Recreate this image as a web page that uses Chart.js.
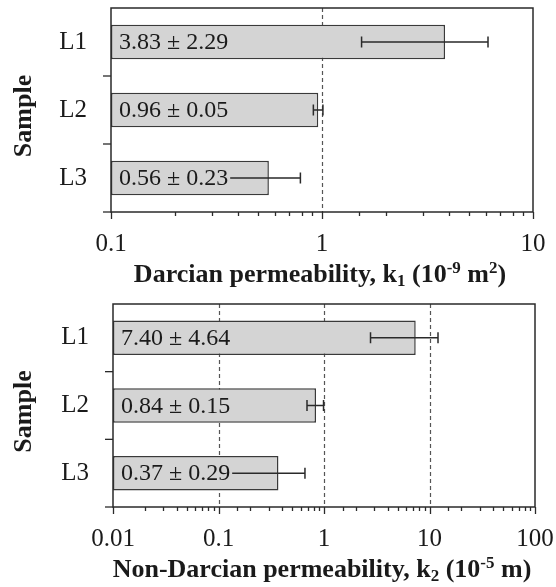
<!DOCTYPE html>
<html>
<head>
<meta charset="utf-8">
<script src="https://cdn.jsdelivr.net/npm/chart.js@4/dist/chart.umd.min.js"></script>
<style>
  html, body { margin: 0; padding: 0; background: #fff; }
  #wrap { position: relative; width: 556px; height: 587px; }
  canvas { position: absolute; left: 0; }
</style>
</head>
<body>
<div id="wrap">
  <canvas id="c1" width="556" height="293" style="top:0"></canvas>
  <canvas id="c2" width="556" height="294" style="top:293px"></canvas>
</div>
<script>
// ---- data ----
const categories = ['L1', 'L2', 'L3'];
const k1Mean = [3.83, 0.96, 0.56];
const k1Err = [2.29, 0.05, 0.23];
const k2Mean = [7.40, 0.84, 0.37];
const k2Err = [4.64, 0.15, 0.29];
const k1TickValues = [0.1, 1, 10];
const k1TickLabels = ['0.1', '1', '10'];
const k2TickValues = [0.01, 0.1, 1, 10, 100];
const k2TickLabels = ['0.01', '0.1', '1', '10', '100'];
const k1RefLines = [1];
const k2RefLines = [0.1, 1, 10];
const yTitle = 'Sample';
const k1Title = [['Darcian permeability, k', ''], ['1', 'sub'], [' (10', ''], ['-9', 'sup'], [' m', ''], ['2', 'sup'], [')', '']];
const k2Title = [['Non-Darcian permeability, k', ''], ['2', 'sub'], [' (10', ''], ['-5', 'sup'], [' m)', '']];

const SERIF = "'Liberation Serif', 'Times New Roman', serif";
const BAR_FILL = '#d4d4d4';
const BAR_EDGE = '#3a3a3a';
const INK = '#1a1a1a';

function isMajor(v) {
  const l = Math.log10(v);
  return Math.abs(l - Math.round(l)) < 1e-9;
}

function makeChart(id, opts) {
  const { mean, err, tickValues, tickLabels, refLines, title, min, max,
          padTop, padRight, yWidth, xHeight } = opts;
  const overlay = {
    id: 'overlay' + id,
    beforeDatasetsDraw(chart) {
      const ctx = chart.ctx, a = chart.chartArea, xs = chart.scales.x;
      ctx.save();
      ctx.strokeStyle = '#555';
      ctx.lineWidth = 1.2;
      ctx.setLineDash([4, 3]);
      refLines.forEach(v => {
        const x = Math.round(xs.getPixelForValue(v)) + 0.5;
        ctx.beginPath(); ctx.moveTo(x, a.top); ctx.lineTo(x, a.bottom); ctx.stroke();
      });
      ctx.restore();
    },
    afterDatasetsDraw(chart) {
      const ctx = chart.ctx, a = chart.chartArea, xs = chart.scales.x, ys = chart.scales.y;
      ctx.save();
      // error bars
      ctx.strokeStyle = '#2a2a2a';
      ctx.lineWidth = 1.5;
      mean.forEach((m, i) => {
        const y = ys.getPixelForValue(i);
        const x1 = xs.getPixelForValue(m - err[i]);
        const x2 = xs.getPixelForValue(m + err[i]);
        ctx.beginPath();
        ctx.moveTo(x1, y); ctx.lineTo(x2, y);
        ctx.moveTo(x1, y - 5.5); ctx.lineTo(x1, y + 5.5);
        ctx.moveTo(x2, y - 5.5); ctx.lineTo(x2, y + 5.5);
        ctx.stroke();
      });
      // value labels
      ctx.font = '24px ' + SERIF;
      ctx.textBaseline = 'middle';
      ctx.textAlign = 'left';
      mean.forEach((m, i) => {
        const y = ys.getPixelForValue(i);
        const txt = m.toFixed(2) + ' \u00b1 ' + err[i].toFixed(2);
        const w = ctx.measureText(txt).width;
        const x = a.left + 8;
        ctx.fillStyle = BAR_FILL;
        ctx.fillRect(x - 3, y - 13, w + 5, 26);
        ctx.fillStyle = INK;
        ctx.fillText(txt, x, y + 1);
      });
      // frame
      ctx.strokeStyle = '#2a2a2a';
      ctx.lineWidth = 1.5;
      ctx.strokeRect(a.left, a.top, a.right - a.left, a.bottom - a.top);
      // x tick marks
      ctx.lineWidth = 1.3;
      xs.ticks.forEach(t => {
        if (t.value < min * 0.999 || t.value > max * 1.001) return;
        const x = Math.round(xs.getPixelForValue(t.value)) + 0.5;
        const len = isMajor(t.value) ? 7 : 4;
        ctx.beginPath(); ctx.moveTo(x, a.bottom); ctx.lineTo(x, a.bottom + len); ctx.stroke();
      });
      // y tick marks at category boundaries
      const band = (a.bottom - a.top) / categories.length;
      for (let k = 1; k <= categories.length; k++) {
        const y = a.top + k * band;
        ctx.beginPath(); ctx.moveTo(a.left - 8, y); ctx.lineTo(a.left, y); ctx.stroke();
      }
      // y title
      ctx.fillStyle = INK;
      ctx.font = 'bold 26px ' + SERIF;
      ctx.textAlign = 'center';
      ctx.textBaseline = 'middle';
      ctx.save();
      ctx.translate(24, (a.top + a.bottom) / 2 + 6);
      ctx.rotate(-Math.PI / 2);
      ctx.fillText(yTitle, 0, 0);
      ctx.restore();
      // x title with sub/superscripts
      const big = 'bold 26px ' + SERIF, small = 'bold 17px ' + SERIF;
      let total = 0;
      title.forEach(([t, k]) => { ctx.font = k ? small : big; total += ctx.measureText(t).width; });
      let x = (a.left + a.right) / 2 - 2 - total / 2;
      const base = a.bottom + 70;
      ctx.textAlign = 'left';
      ctx.textBaseline = 'alphabetic';
      title.forEach(([t, k]) => {
        ctx.font = k ? small : big;
        const dy = k === 'sub' ? 4 : (k === 'sup' ? -9 : 0);
        ctx.fillText(t, x, base + dy);
        x += ctx.measureText(t).width;
      });
      ctx.restore();
    }
  };

  return new Chart(document.getElementById(id), {
    type: 'bar',
    data: {
      labels: categories,
      datasets: [{
        data: mean.map(v => [min, v]),
        backgroundColor: BAR_FILL,
        borderColor: BAR_EDGE,
        borderWidth: 1.5,
        borderSkipped: false,
        barPercentage: 1.0,
        categoryPercentage: 0.51
      }]
    },
    options: {
      indexAxis: 'y',
      responsive: false,
      animation: false,
      events: [],
      layout: { padding: { top: padTop, right: padRight, left: 0, bottom: 0 } },
      plugins: { legend: { display: false }, tooltip: { enabled: false } },
      scales: {
        x: {
          type: 'logarithmic',
          min: min, max: max,
          grid: { display: false, drawTicks: true, tickLength: 7 },
          border: { display: false },
          ticks: {
            autoSkip: false, maxRotation: 0, minRotation: 0,
            padding: 10,
            color: INK,
            font: { family: SERIF, size: 25 },
            callback: (v) => {
              const idx = tickValues.findIndex(t => Math.abs(t - v) / t < 1e-6);
              return idx >= 0 ? tickLabels[idx] : '';
            }
          },
          afterFit: (s) => { s.height = xHeight; s.paddingLeft = 0; s.paddingRight = 0; }
        },
        y: {
          grid: { display: false, drawTicks: true, tickLength: 7 },
          border: { display: false },
          ticks: { padding: 17, color: INK, font: { family: SERIF, size: 25 } },
          afterFit: (s) => { s.width = yWidth; s.paddingTop = 0; s.paddingBottom = 0; }
        }
      }
    },
    plugins: [overlay]
  });
}

makeChart('c1', {
  mean: k1Mean, err: k1Err, tickValues: k1TickValues, tickLabels: k1TickLabels,
  refLines: k1RefLines, title: k1Title, min: 0.1, max: 10,
  padTop: 8, padRight: 23, yWidth: 111, xHeight: 81
});
makeChart('c2', {
  mean: k2Mean, err: k2Err, tickValues: k2TickValues, tickLabels: k2TickLabels,
  refLines: k2RefLines, title: k2Title, min: 0.01, max: 100,
  padTop: 11, padRight: 21, yWidth: 113, xHeight: 80
});
</script>
</body>
</html>
